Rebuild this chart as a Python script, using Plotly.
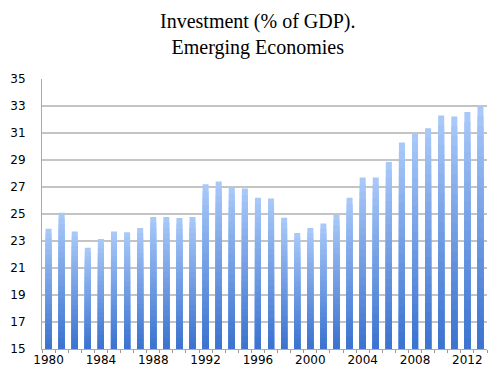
import plotly.graph_objects as go
import numpy as np

years = list(range(1980, 2014))
values = [23.9, 25.1, 23.7, 22.5, 23.15, 23.7, 23.65, 23.96, 24.78, 24.78,
          24.7, 24.78, 27.2, 27.4, 26.98, 26.88, 26.2, 26.15, 24.73, 23.6,
          23.96, 24.3, 24.95, 26.2, 27.7, 27.7, 28.85, 30.3, 30.97, 31.35,
          32.3, 32.23, 32.55, 32.98]
x_tickvals = list(range(1980, 2013, 4))
y_tickvals = list(range(15, 36, 2))

title_text = "Investment (% of GDP).<br>Emerging Economies"

base = 15
top_rgb = np.array([168, 200, 248])
bot_rgb = np.array([60, 116, 208])
N = 24

fig = go.Figure()
vals = np.array(values)
for k in range(N):
    frac = 1 - k / N
    c = top_rgb + (bot_rgb - top_rgb) * (k / (N - 1))
    color = "rgb(%d,%d,%d)" % tuple(c.astype(int))
    fig.add_trace(go.Bar(
        x=years, y=base + (vals - base) * frac, base=0,
        marker=dict(color=color, line=dict(width=0)),
        hoverinfo="skip", showlegend=False,
    ))

fig.update_layout(
    barmode="overlay",
    bargap=0.54,
    width=500, height=373,
    margin=dict(l=34, r=21, t=71, b=32, autoexpand=False),
    paper_bgcolor="white", plot_bgcolor="white",
    font=dict(family="DejaVu Sans", size=12, color="black"),
    annotations=[dict(
        text=title_text, xref="paper", yref="paper",
        x=(250 - 34) / 445, y=1 + (71 - 0) / 270,
        xanchor="center", yanchor="top", showarrow=False,
        font=dict(family="Liberation Serif", size=20, color="black"),
        align="center",
    )],
)
fig.update_xaxes(
    range=[1979.5, 2013.5],
    tickmode="array", tickvals=x_tickvals, ticks="",
    showgrid=False, zeroline=False, automargin=False,
    showline=True, linecolor="#aaaaaa", linewidth=1,
    minor=dict(ticks="outside", tick0=1979.5, dtick=1, ticklen=3,
               tickcolor="#999999", showgrid=False),
    ticklabelstandoff=0,
    tickfont=dict(family="DejaVu Sans", size=12, color="black"),
)
fig.update_yaxes(
    range=[15, 35],
    tickmode="array", tickvals=y_tickvals, ticks="",
    showgrid=True, gridcolor="#c4c4c4", gridwidth=1.5,
    zeroline=False, automargin=False,
    showline=True, linecolor="#aaaaaa", linewidth=1,
    ticklabelstandoff=13,
    tickfont=dict(family="DejaVu Sans", size=12, color="black"),
)

fig.write_html("out.html")
